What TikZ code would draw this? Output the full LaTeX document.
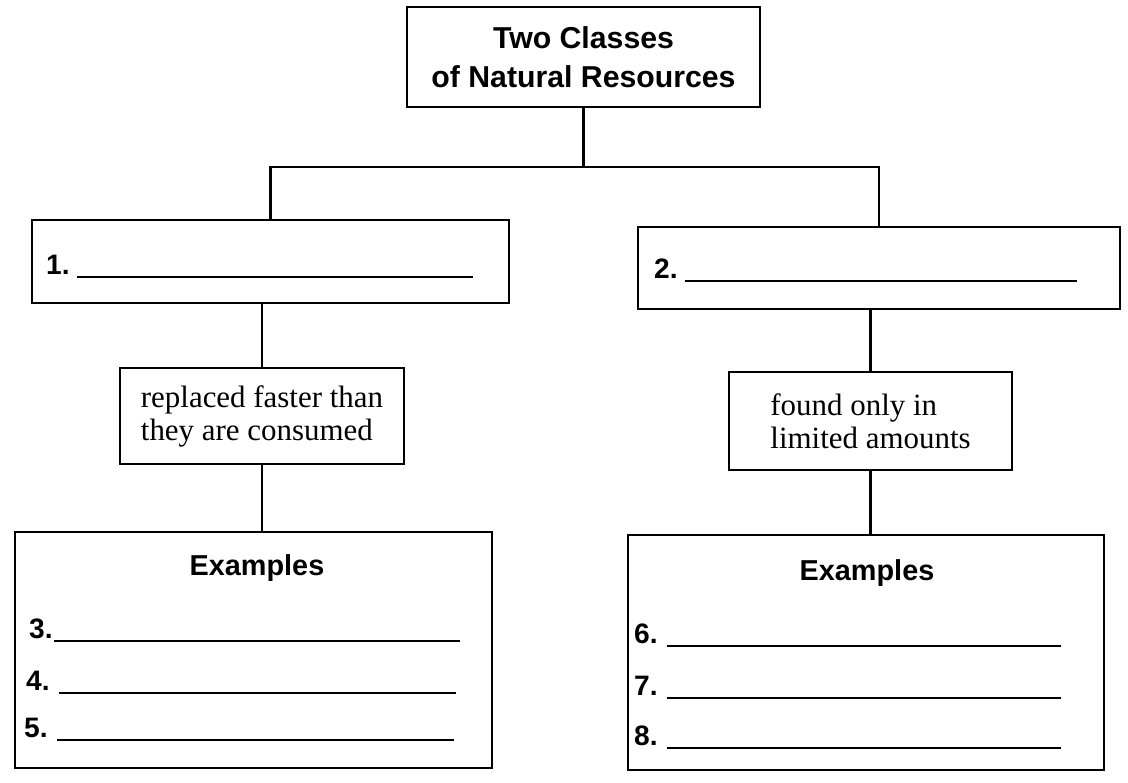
\documentclass[tikz,border=0pt]{standalone}
\usepackage{fontspec}
\setmainfont{Liberation Serif}
\setsansfont{Liberation Sans}
\usepackage{tikz}

\newcommand{\blankline}[1]{\rule[-3pt]{#1}{1.5pt}}

\begin{document}
\begin{tikzpicture}[x=0.025cm, y=-0.025cm, line width=1.6pt,
  box/.style={draw, line width=1.6pt, inner sep=0pt},
  head/.style={font=\sffamily\bfseries\fontsize{20.5}{24}\selectfont},
  num/.style={anchor=base west, inner sep=0pt, font=\sffamily\bfseries\fontsize{20}{24}\selectfont},
  desc/.style={box, align=left, font=\fontsize{22}{23.5}\selectfont}]
\useasboundingbox (0,0) rectangle (1128,782);

\node[box, align=center, minimum width=8.825cm, minimum height=2.5cm,
      font=\sffamily\bfseries\fontsize{21.5}{27.7}\selectfont] (top) at (583.5,57)
      {Two Classes\\of Natural Resources};

\node[box, minimum width=11.925cm, minimum height=2.075cm] (one) at (270.5,261.5) {};
\node[box, minimum width=12.05cm, minimum height=2.05cm] (two) at (879,268) {};
\node[desc, minimum width=7.1cm, minimum height=2.4cm] (renew) at (262,416)
      {replaced faster than\\they are consumed};
\node[desc, minimum width=7.075cm, minimum height=2.45cm] (nonrenew) at (870.5,421)
      {found only in\\limited amounts};
\node[box, minimum width=11.925cm, minimum height=5.9cm] (exL) at (253.5,650) {};
\node[box, minimum width=11.9cm, minimum height=5.875cm] (exR) at (866,652.5) {};

% connectors
\draw (top.south) -- ++(0,59) coordinate (bar);
\draw (one.north) |- (bar) -| (two.north);
\draw (renew.north) -- (renew.north |- one.south);
\draw (renew.south) -- (renew.south |- exL.north);
\draw (nonrenew.north) -- (nonrenew.north |- two.south);
\draw (nonrenew.south) -- (nonrenew.south |- exR.north);

% blanks
\node[num] (n1) at (45,274) {1.\hspace{5pt}\blankline{282pt}};
\node[num] (n2) at (653,278) {2.\hspace{5pt}\blankline{279pt}};

\node[head, anchor=base] (exLt) at (257,575) {Examples};
\node[num] (n3) at (28,638) {3.\hspace{1pt}\blankline{289pt}};
\node[num] (n4) at (25,690) {4.\hspace{7pt}\blankline{282pt}};
\node[num] (n5) at (23,737) {5.\hspace{7pt}\blankline{282pt}};

\node[head, anchor=base] (exRt) at (867,580) {Examples};
\node[num] (n6) at (633,643) {6.\hspace{7pt}\blankline{280pt}};
\node[num] (n7) at (633,695) {7.\hspace{7pt}\blankline{280pt}};
\node[num] (n8) at (633,745) {8.\hspace{7pt}\blankline{280pt}};
\end{tikzpicture}
\end{document}
